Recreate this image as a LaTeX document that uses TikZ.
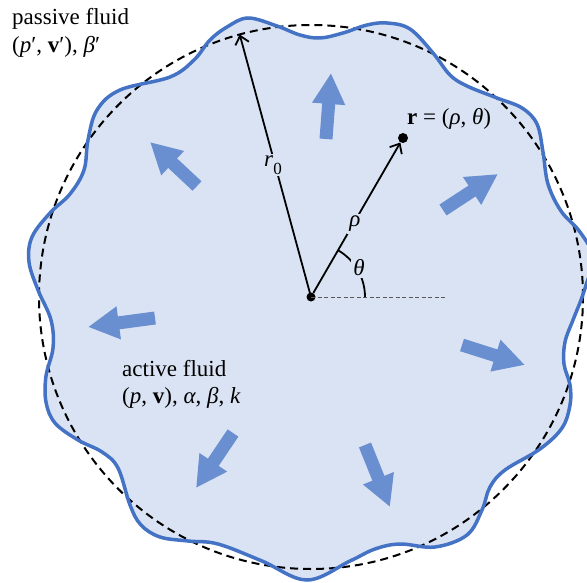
\documentclass[tikz,border=0pt]{standalone}
\usepackage{fontspec}
\setmainfont{Liberation Serif}
\usetikzlibrary{arrows.meta,calc}
\definecolor{fillblue}{HTML}{DAE3F3}
\definecolor{lineblue}{HTML}{4472C4}
\definecolor{arrowblue}{HTML}{6A8FD1}
\tikzset{
  lbl/.style={font=\fontsize{23}{28}\selectfont, inner sep=0pt},
  blockarrow/.style={arrowblue, line width=13pt, -{Triangle[length=31pt 0 0, width=31pt 0 0]}},
  vec/.style={line width=1.8pt, -{Straight Barb[length=8pt 0 0, width=14pt 0 0]}},
  dotnode/.style={circle, fill=black, inner sep=0pt, minimum size=#1},
  cover/.style={fill=fillblue, inner sep=2pt},
}
\newcommand{\boundarypts}{(210,40) (227,27) (248,18) (277,26) (300,35) (320,38) (343,33) (367,25) (387,23) (410,29) (433,53) (450,75) (467,86) (497,98) (522,108) (537,124) (543,152) (548,184) (561,211) (580,232) (594,258) (587,282) (581,300) (573,320) (565,342) (564,364) (570,385) (570,405) (562,428) (540,449) (505,470) (490,487) (482,510) (467,535) (435,547) (400,544) (375,549) (350,561) (307,580) (262,561) (218,544) (188,541) (160,537) (141,525) (130,505) (118,468) (102,452) (78,440) (55,423) (46,402) (46,376) (53,348) (51,320) (38,290) (29,262) (32,237) (50,213) (70,194) (84,170) (88,140) (97,110) (120,90) (170,77) (194,60)}
\begin{document}
\begin{tikzpicture}[x=1pt,y=-1pt]
\useasboundingbox (0,0) rectangle (587,583);
\begin{scope}
\clip (0,0) rectangle (587,583);
\fill[fillblue] plot[smooth cycle, tension=0.6] coordinates {\boundarypts};
\draw[line width=2pt, dash pattern=on 8pt off 5pt] (311,297) circle[radius=272pt];
\draw[lineblue, line width=3.5pt] plot[smooth cycle, tension=0.6] coordinates {\boundarypts};
\end{scope}
% blue block arrows
\coordinate (a1s) at (326,139); \coordinate (a1e) at (331,73);
\coordinate (a2s) at (197,186); \coordinate (a2e) at (150,142);
\coordinate (a3s) at (443,210); \coordinate (a3e) at (498,174);
\coordinate (a4s) at (155,318); \coordinate (a4e) at (88,327);
\coordinate (a5s) at (462,345); \coordinate (a5e) at (525,365);
\coordinate (a6s) at (233,433); \coordinate (a6e) at (196,488);
\coordinate (a7s) at (365,445); \coordinate (a7e) at (390,507);
\foreach \i in {1,...,7} {\draw[blockarrow] (a\i s) -- (a\i e);}
% geometry
\node[dotnode=9pt] (O) at (311,297) {};
\node[dotnode=10pt] (P) at (403,138) {};
\coordinate (R0) at (239.7,34.5);
\coordinate (H) at (447,297);
\draw[gray!70!black, line width=1pt, dash pattern=on 4pt off 2.5pt] (O.center) -- (H);
\draw[line width=1.8pt] (365,297) arc[start angle=0, end angle=60, radius=54pt];
\draw[vec] (O.center) -- (R0);
\draw[vec] (O) -- (P);
\node[cover, font=\fontsize{23}{28}\selectfont] (r0lbl) at (273,165) {\textit{r}\raisebox{-0.32em}{\fontsize{17}{17}\selectfont 0}};
\node[cover, font=\fontsize{23}{28}\selectfont] (rholbl) at (355,224) {\textit{ρ}};
\node[cover, font=\fontsize{23}{28}\selectfont] (thlbl) at (359,268) {\textit{θ}};
% texts
\node[lbl, anchor=base west] (pf1) at (12,25) {passive fluid};
\node[lbl, anchor=base west] (pf2) at (12,53) {(\textit{p}′, \textbf{v}′), \textit{β}′};
\node[lbl, anchor=base west] (af1) at (122,376) {active fluid};
\node[lbl, anchor=base west] (af2) at (122,403) {(\textit{p}, \textbf{v}), \textit{α}, \textit{β}, \textit{k}};
\node[lbl, anchor=base west] (rlbl) at (407,125) {\textbf{r} = (\textit{ρ}, \textit{θ})};
\end{tikzpicture}
\end{document}
